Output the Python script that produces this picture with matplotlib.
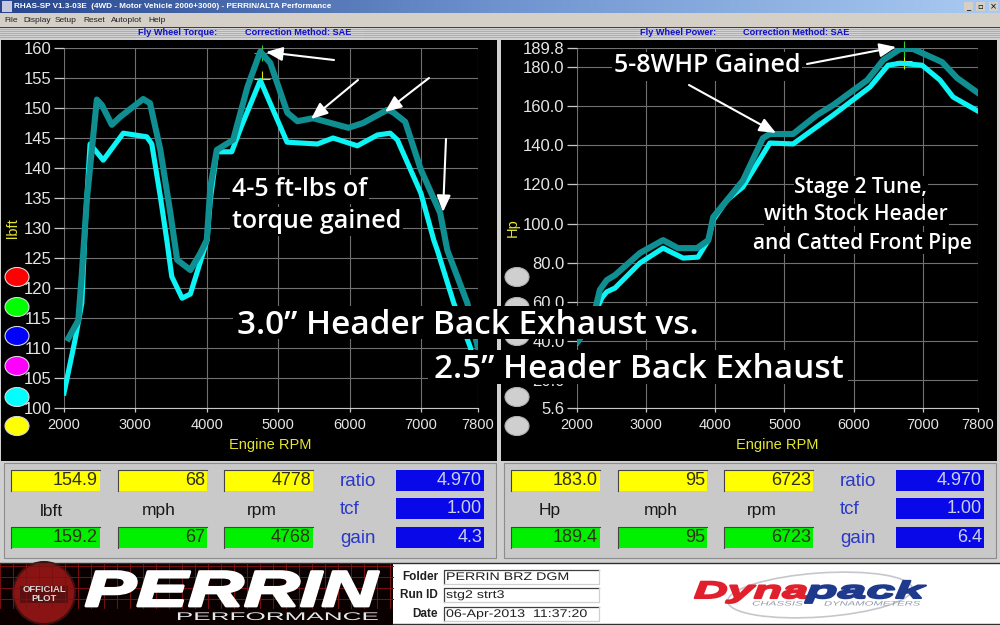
# -*- coding: utf-8 -*-
"""Dynapack dyno screen: torque and power, 3.0in vs 2.5in header back exhaust."""

import numpy as np
import matplotlib
matplotlib.use("Agg")
import matplotlib.pyplot as plt
import matplotlib.patheffects as pe
from matplotlib.patches import Rectangle, Ellipse, Circle
from matplotlib.transforms import Affine2D

W, H = 1000, 625

# --- data
torque_rpm_30 = [2060, 2200, 2250, 2320, 2460, 2530, 2670, 2785, 3110, 3205, 3350, 3490, 3585,
                 3770, 3910, 4000, 4050, 4140, 4370, 4570, 4750, 4890, 5130, 5270, 5490, 5985,
                 6190, 6530, 6610, 6780, 7000, 7270, 7370, 7650, 7800]
torque_30 = [111.6, 114.6, 122.4, 134.7, 151.4, 150.5, 147.2, 148.5, 151.5, 150.8, 143, 132.5, 124.7,
             123, 125.8, 128, 136.8, 143, 144.7, 153.5, 159.4, 157.5, 149.2, 147.8, 148.3, 146.7,
             147.5, 149.7, 149.3, 147.7, 139.7, 132.5, 126.3, 117.5, 110]
torque_rpm_25 = [2000, 2154, 2250, 2300, 2365, 2550, 2830, 3160, 3230, 3350, 3440, 3510, 3655, 3770,
                 4005, 4050, 4140, 4350, 4480, 4750, 5125, 5550, 5770, 6110, 6390, 6570, 6670,
                 7000, 7180, 7230, 7460, 7690, 7800]
torque_25 = [102.5, 111.3, 117.5, 131, 144, 141.3, 145.8, 145.2, 144, 135.2, 128, 121.9, 118.3, 119,
             128, 134.7, 142.7, 142.7, 146.8, 154.6, 144.3, 144, 145, 143.7, 145.5, 145.8, 144.7,
             135.8, 128, 126.3, 117.5, 110.2, 105]

power_rpm_30 = [2010, 2160, 2260, 2330, 2430, 2550, 2910, 3245, 3460, 3735, 3900, 3970, 4170, 4400,
                4690, 4790, 5125, 5470, 5705, 6200, 6430, 6675, 6860, 7280, 7500, 7800]
power_30 = [39.5, 47, 55.7, 66, 71, 73.6, 84.9, 91.5, 87.4, 87.4, 91.5, 103.3, 112, 122,
            143.7, 145.8, 145.8, 155.5, 160.6, 173.4, 183.7, 189.3, 189.3, 182.6, 174.4, 166.8]
power_rpm_25 = [2000, 2150, 2260, 2360, 2430, 2550, 2910, 3245, 3535, 3750, 3900, 3970, 4170, 4400,
                4790, 5125, 5705, 6240, 6500, 6675, 6990, 7250, 7440, 7800]
power_25 = [39, 46, 54, 62, 65, 67, 79.8, 87.4, 82.3, 82.8, 91.5, 101.8, 112, 118.7,
            141.2, 140.7, 155.5, 169.9, 181, 182, 181, 173.4, 164.7, 157.5]

rpm_ticks = [2000, 3000, 4000, 5000, 6000, 7000, 7800]
torque_ticks = [100, 105, 110, 115, 120, 125, 130, 135, 140, 145, 150, 155, 160]
power_ticks = [5.6, 20, 40, 60, 80, 100, 120, 140, 160, 180, 189.8]
power_tick_labels = ["5.6", "20.0", "40.0", "60.0", "80.0", "100.0", "120.0", "140.0", "160.0", "180.0", "189.8"]

# cursor readouts
torque_cursor = [(4778, 154.9, "#e8e800"), (4768, 159.2, "#30d030")]
power_cursor = [(6723, 183.0, "#e8e800"), (6723, 189.4, "#30d030")]
left_readout = [["154.9", "68", "4778"], ["159.2", "67", "4768"]]
right_readout = [["183.0", "95", "6723"], ["189.4", "95", "6723"]]
left_units = ["lbft", "mph", "rpm"]
right_units = ["Hp", "mph", "rpm"]
left_blue = ["4.970", "1.00", "4.3"]
right_blue = ["4.970", "1.00", "6.4"]
blue_names = ["ratio", "tcf", "gain"]
menu_items = [("File", 4), ("Display", 23), ("Setup", 55), ("Reset", 83), ("Autoplot", 111), ("Help", 148)]

TEAL = "#0f8f92"
CYAN = "#0cf4f6"
GRID = "#707070"
PANEL = "#c9c9c9"
UI = "Liberation Sans"
OVER = "Open Sans"


class Stretched(pe.AbstractPathEffect):
    """Widen a text around pixel column cx, the logos are much wider than any installed font."""

    def __init__(self, sx, cx, lw=0.0):
        super().__init__()
        self.sx, self.cx, self.lw = sx, cx, lw

    def draw_path(self, renderer, gc, tpath, affine, rgbFace):
        gc0 = renderer.new_gc()
        gc0.copy_properties(gc)
        gc0.set_foreground(rgbFace)
        gc0.set_linewidth(self.lw)
        wide = Affine2D().translate(-self.cx, 0).scale(self.sx, 1).translate(self.cx, 0)
        renderer.draw_path(gc0, tpath, affine + wide, rgbFace)
        gc0.restore()


def rect(ax, x0, y0, x1, y1, color, **kw):
    ax.add_patch(Rectangle((x0, y0), x1 - x0, y1 - y0, facecolor=color, edgecolor=kw.pop("edge", "none"), **kw))


def pixel_axes(zorder):
    ax = fig.add_axes([0, 0, 1, 1], zorder=zorder)
    ax.set_xlim(0, W)
    ax.set_ylim(H, 0)
    ax.axis("off")
    ax.patch.set_alpha(0)
    return ax


def draw_chart(x0, x1, rpm_a, val_a, rpm_b, val_b, yticks, ylabels, ylim, cursors, ylab, ylab_x, xlab_x):
    ax = fig.add_axes([x0 / W, 1 - 408 / H, (x1 - x0) / W, 360 / H], zorder=2)
    ax.set_facecolor("black")
    ax.set_xlim(2000, 7800)
    ax.set_ylim(*ylim)
    ax.set_xticks(rpm_ticks)
    ax.set_yticks(yticks)
    ax.set_yticklabels(ylabels)
    ax.grid(True, color=GRID, lw=0.8)
    ax.set_axisbelow(True)
    for name in ["top", "right", "left"]:
        ax.spines[name].set_visible(False)
    ax.spines["bottom"].set_color("#c8c8c8")
    ax.tick_params(axis="y", length=7, width=0.9, color="#c8c8c8", labelcolor="#e6e6e6", pad=2, labelsize=12)
    ax.tick_params(axis="x", length=3, width=0.9, color="#c8c8c8", labelcolor="#e6e6e6", pad=4, labelsize=10.5)
    for lab in ax.get_xticklabels() + ax.get_yticklabels():
        lab.set_family(UI)

    # the cursors sit under the curves, only their ends show
    for rpm, val, col in cursors:
        ax.plot([rpm], [val], marker="+", ms=11, mew=0.8, color=col, zorder=2.5, clip_on=False)
    ax.plot(rpm_b, val_b, color=CYAN, lw=3.7, solid_joinstyle="round", zorder=3)
    ax.plot(rpm_a, val_a, color=TEAL, lw=4.4, solid_joinstyle="round", zorder=4)

    chrome.text(xlab_x, 445, "Engine RPM", color="#e6e62e", fontsize=10.5, family=UI, ha="center", va="center")
    chrome.text(ylab_x, 228, ylab, color="#e6e62e", fontsize=10.5, family=UI, ha="center", va="center", rotation=90)
    return ax


def draw_readout(dx, readout, units, blue, unit_xs):
    rect(chrome, dx + 4, 463, dx + 496, 558, PANEL, edge="#8c8c8c", lw=0.8)
    for row, y0, col in [(readout[0], 470, "#ffff00"), (readout[1], 527, "#00f000")]:
        for (a, b), txt in zip([(11, 100), (118, 207), (224, 313)], row):
            rect(chrome, dx + a, y0, dx + b, y0 + 21, col)
            chrome.plot([dx + a, dx + a, dx + b], [y0 + 21, y0, y0], color="#444444", lw=0.8)
            chrome.text(dx + b - 2, y0 + 10.5, txt, ha="right", va="center", fontsize=13,
                        family=UI, color="#303018")
    for x, txt in zip(unit_xs, units):
        chrome.text(dx + x, 511, txt, ha="center", va="center", fontsize=12.5, family=UI, color="#181818")
    for y0, name, txt in zip([470, 498, 527], blue_names, blue):
        rect(chrome, dx + 396, y0, dx + 484, y0 + 21, "#0808e8")
        chrome.text(dx + 482, y0 + 10.5, txt, ha="right", va="center", fontsize=13, family=UI, color="#c8d0e8")
        chrome.text(dx + 340, y0 + 11.5, name, ha="left", va="center", fontsize=13.5, family=UI, color="#2a38c8")


fig = plt.figure(figsize=(W / 100, H / 100), dpi=100, facecolor="#d0d0d0")
chrome = pixel_axes(1)
over = pixel_axes(5)

# --- window frame
grad = np.linspace(0, 1, 256).reshape(1, -1)
cmap = matplotlib.colors.LinearSegmentedColormap.from_list("title", ["#27458c", "#6f93cf", "#a9cbf2"])
chrome.imshow(grad, extent=(0, W, 13, 0), cmap=cmap, aspect="auto", zorder=0)
chrome.set_xlim(0, W)
chrome.set_ylim(H, 0)
chrome.text(14, 6.5, "RHAS-SP V1.3-03E  (4WD - Motor Vehicle 2000+3000) - PERRIN/ALTA Performance",
            color="white", fontsize=5.9, fontweight="bold", family=UI, va="center")
rect(chrome, 2, 1, 12, 12, "#c8c8e0")
for x, s in [(968, "_"), (980, "▫"), (993, "×")]:
    rect(chrome, x - 4.5, 2, x + 4.5, 11, "#d4d0c8")
    chrome.text(x, 6.5, s, fontsize=6, color="black", ha="center", va="center", family="DejaVu Sans")
rect(chrome, 0, 13, W, 27, "#d4d0c8")
for label, x in menu_items:
    chrome.text(x, 20, label, fontsize=6, family=UI, color="#202020", va="center")
rect(chrome, 0, 27, W, 28, "#404040")
for y in np.arange(29, 39, 2):
    chrome.plot([0, W], [y, y], color="#a8a8a8", lw=0.6)
rect(chrome, 136, 28, 364, 39, "#d4d4d4")
rect(chrome, 638, 28, 862, 39, "#d4d4d4")
for x, s in [(138, "Fly Wheel Torque:"), (245, "Correction Method: SAE"),
             (640, "Fly Wheel Power:"), (743, "Correction Method: SAE")]:
    chrome.text(x, 32.5, s, fontsize=6.6, fontweight="bold", family=UI, color="#1010c0", va="center")

rect(chrome, 1, 40, 497, 461, "black")
rect(chrome, 501, 40, 997, 461, "black")

# --- charts
draw_chart(64, 478, torque_rpm_30, torque_30, torque_rpm_25, torque_25, torque_ticks,
           [str(t) for t in torque_ticks], (100, 160), torque_cursor, "lbft", 13, 270)
draw_chart(577, 978, power_rpm_30, power_30, power_rpm_25, power_25, power_ticks,
           power_tick_labels, (5.6, 189.8), power_cursor, "Hp", 513, 777)

# --- indicator lamps
lamp_ys = [277, 307, 336, 366, 397, 426]
lamp_cols = ["#ff0000", "#00ff00", "#0000ff", "#ff00ff", "#00ffff", "#ffff00"]
for y, col in zip(lamp_ys, lamp_cols):
    over.add_patch(Ellipse((17, y), 24, 19, facecolor=col, edgecolor="#d8d8d8", lw=0.8))
    over.add_patch(Ellipse((517, y), 24, 19, facecolor="#cfcfcf", edgecolor="#b0b0b0", lw=0.8))

# --- annotation arrows
arrows = [((334, 60), (266, 52)), ((358, 80), (311, 119)), ((429, 78), (385, 112)), ((446, 139), (443, 212)),
          ((807, 64), (896, 47)), ((689, 85), (776, 133))]
for start, end in arrows:
    over.annotate("", xy=end, xytext=start, xycoords="data", textcoords="data",
                  arrowprops=dict(arrowstyle="-|>,head_length=1.0,head_width=0.42", color="white", lw=1.5,
                                  shrinkA=0, shrinkB=0))

# --- overlay text
small_box = dict(facecolor="black", edgecolor="none", pad=1.5)
over.text(232, 189, "4-5 ft-lbs of", color="white", fontsize=18, family=OVER, fontweight="semibold",
          va="center", bbox=small_box)
over.text(232, 221, "torque gained", color="white", fontsize=18, family=OVER, fontweight="semibold",
          va="center", bbox=small_box)
over.text(707, 66, "5-8WHP Gained", color="white", fontsize=18, family=OVER, fontweight="semibold",
          va="center", ha="center", bbox=small_box)
for x, y, s in [(861, 187, "Stage 2 Tune,"), (856, 215, "with Stock Header"), (862, 243, "and Catted Front Pipe")]:
    over.text(x, y, s, color="white", fontsize=15, family=OVER, fontweight="semibold", va="center", ha="center",
              bbox=dict(facecolor="black", edgecolor="none", pad=0.5))
# the black plates hug the headline, labels poke out above and between them
rect(over, 233, 306, 702, 339, "black")
rect(over, 428, 350, 848, 384, "black")
over.text(237, 325, "3.0” Header Back Exhaust vs.", color="white", fontsize=24, family=OVER,
          fontweight="semibold", va="center")
over.text(434, 369, "2.5” Header Back Exhaust", color="white", fontsize=24, family=OVER,
          fontweight="semibold", va="center")

# --- readouts
draw_readout(0, left_readout, left_units, left_blue, [51, 159, 262])
draw_readout(500, right_readout, right_units, right_blue, [50, 161, 262])

# --- footer
rect(chrome, 0, 563, W, 625, "white")
rect(chrome, 0, 563, 393, 625, "#0a0000")
for x in np.arange(0, 393, 13):
    chrome.plot([x, x], [563, 608], color="#7a1010", lw=0.7)
for y in np.arange(566, 608, 11):
    chrome.plot([0, 393], [y, y], color="#7a1010", lw=0.7)
chrome.plot([0, W], [563, 563], color="#303030", lw=1)
chrome.plot([393, W], [624, 624], color="#303030", lw=1)
chrome.add_patch(Circle((44, 593), 31, facecolor="#8a1414", edgecolor="#401010", lw=1.5))
rect(chrome, 20, 586, 68, 603, "#5a1010")
chrome.text(44, 594, "OFFICIAL\nPLOT", color="#d8d8d8", fontsize=6.8, fontweight="bold", family=UI,
            ha="center", va="center", linespacing=0.9)
chrome.text(231, 606, "PERRIN", color="white", fontsize=36, fontweight="bold", style="italic", family=UI,
            ha="center", va="baseline", path_effects=[Stretched(1.55, 231, lw=2.0)])
chrome.text(277, 617, "PERFORMANCE", color="#e8e8e8", fontsize=8, family=UI, ha="center", va="center",
            path_effects=[Stretched(2.35, 277)])

for y, name, val in [(577, "Folder", "PERRIN BRZ DGM"), (595, "Run ID", "stg2 strt3"),
                     (614, "Date", "06-Apr-2013  11:37:20")]:
    chrome.text(438, y, name, fontsize=8.5, fontweight="bold", family=UI, ha="right", va="center", color="#202020")
    rect(chrome, 444, y - 7.5, 599, y + 6.5, "white")
    chrome.plot([444, 444, 599], [y + 6.5, y - 7.5, y - 7.5], color="#404040", lw=0.9)
    chrome.plot([444, 599, 599], [y + 6.5, y + 6.5, y - 7.5], color="#d0d0d0", lw=0.9)
    chrome.text(446, y, val, fontsize=8, family=UI, va="center", color="#202020",
                path_effects=[Stretched(1.28, 446)])

chrome.add_patch(Ellipse((820, 595), 185, 44, angle=-4, facecolor="none", edgecolor="#c4c8cc", lw=1.2))
chrome.text(808, 598, "Dyna", color="#e0202c", fontsize=17, fontweight="bold", style="italic", family=UI,
            ha="right", va="baseline", path_effects=[Stretched(1.98, 808, lw=1.5)])
chrome.text(806, 598, "pack", color="#1f3a8c", fontsize=17, fontweight="bold", style="italic", family=UI,
            ha="left", va="baseline", path_effects=[Stretched(2.19, 806, lw=1.5)])
chrome.text(752, 604, "CHASSIS", color="#9098a8", fontsize=4.5, family=UI, va="center", style="italic",
            path_effects=[Stretched(1.85, 752)])
chrome.text(824, 604, "DYNAMOMETERS", color="#9098a8", fontsize=4.5, family=UI, va="center", style="italic",
            path_effects=[Stretched(1.8, 824)])

fig.savefig("out.png", dpi=100, facecolor=fig.get_facecolor())
